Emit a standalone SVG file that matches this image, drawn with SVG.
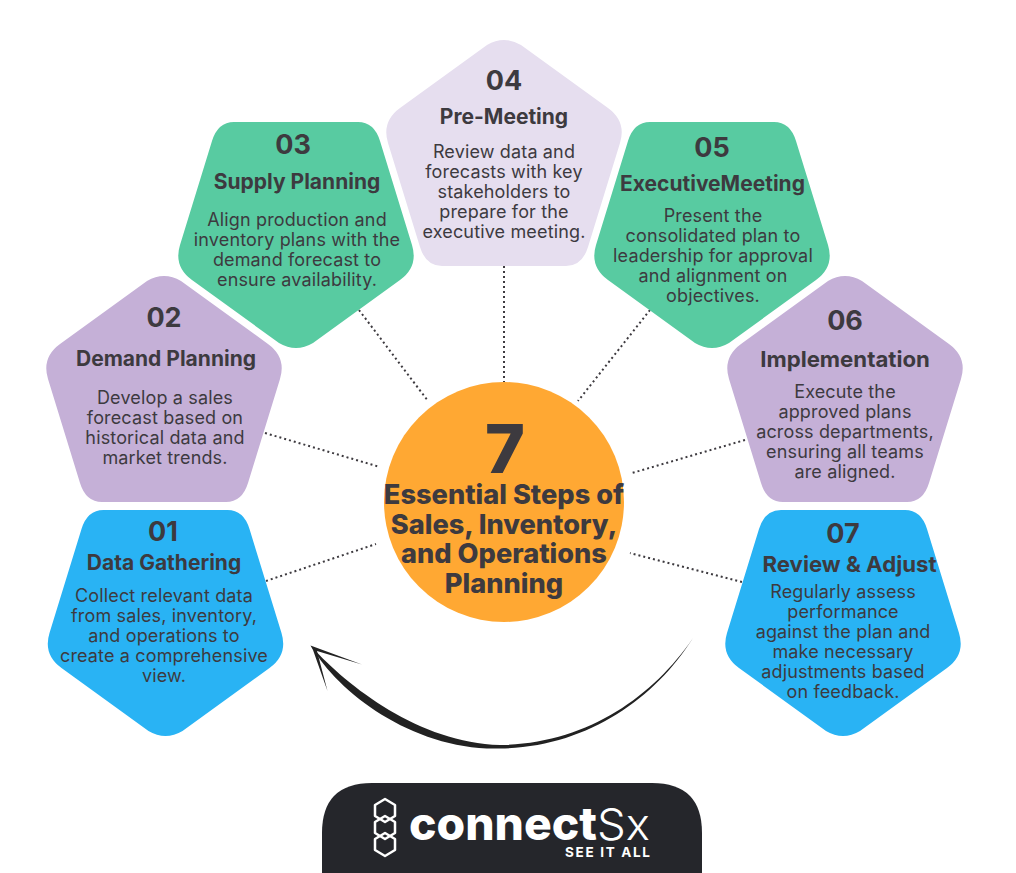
<svg xmlns="http://www.w3.org/2000/svg" xmlns:xlink="http://www.w3.org/1999/xlink" width="1016" height="873" viewBox="0 0 1016 873">
<style>
text{font-family:"Inter","Liberation Sans",sans-serif;text-anchor:middle;fill:#3d3a3f}
.num{font-size:27px;font-weight:700}
.ttl{font-size:21px;font-weight:700}
.ttl2{font-size:22.200px;font-weight:700}
.body{font-size:18px;font-weight:400;letter-spacing:.15px}
.blue{fill:#29b3f4}.green{fill:#58cba1}.purple{fill:#c5b0d7}.lilac{fill:#e6deef}
.dot{stroke:#3d3a3f;stroke-width:2;stroke-dasharray:2 3;fill:none}
.head{font-size:27.200px;font-weight:800}
</style>
<defs>
<path id="penta" d="M-17,5Q0,-5 17,5L104,68Q122.600,81.500 116,103L84,207Q78.200,226 62,226L-62,226Q-78.200,226 -84,207L-116,103Q-122.600,81.500 -104,68Z"/>
</defs>
<rect width="1016" height="873" fill="#fff"/>
<g id="connectors">
<line class="dot" x1="504" y1="266" x2="504" y2="384"/>
<line class="dot" x1="359" y1="310" x2="428" y2="401"/>
<line class="dot" x1="650" y1="310" x2="578" y2="401"/>
<line class="dot" x1="265" y1="433" x2="380" y2="467"/>
<line class="dot" x1="745" y1="440" x2="632" y2="473"/>
<line class="dot" x1="266" y1="581" x2="376" y2="544"/>
<line class="dot" x1="742" y1="582" x2="630" y2="553"/>
</g>
<g id="cycle-arrow" fill="#222222">
<path d="M693,638C652,698 585,744 500,745C420,743 347,686 312,647C338,693 415,751 500,748.500C585,747.500 654,700 693,638Z"/>
<path d="M310.500,645.500L362,664.500L317,651L327.500,691L313,650Z"/>
</g>
<g id="step-01">
<use xlink:href="#penta" class="blue" transform="translate(165.500,736) rotate(180)"/>
<text class="num" x="163" y="541">01</text>
<text class="ttl" x="164" y="570">Data Gathering</text>
<text class="body" x="164" y="602">Collect relevant data</text>
<text class="body" x="164" y="622">from sales, inventory,</text>
<text class="body" x="164" y="642">and operations to</text>
<text class="body" x="164" y="662">create a comprehensive</text>
<text class="body" x="164" y="682">view.</text>
</g>
<g id="step-02">
<use xlink:href="#penta" class="purple" transform="translate(164,276)"/>
<text class="num" x="164" y="327">02</text>
<text class="ttl" x="166" y="366">Demand Planning</text>
<text class="body" x="165" y="404">Develop a sales</text>
<text class="body" x="165" y="424">forecast based on</text>
<text class="body" x="165" y="444">historical data and</text>
<text class="body" x="165" y="464">market trends.</text>
</g>
<g id="step-03">
<use xlink:href="#penta" class="green" transform="translate(296,348) rotate(180)"/>
<text class="num" x="293" y="154">03</text>
<text class="ttl" x="297" y="189">Supply Planning</text>
<text class="body" x="297" y="226">Align production and</text>
<text class="body" x="297" y="246">inventory plans with the</text>
<text class="body" x="297" y="266">demand forecast to</text>
<text class="body" x="297" y="286">ensure availability.</text>
</g>
<g id="step-04">
<use xlink:href="#penta" class="lilac" transform="translate(504,40)"/>
<text class="num" x="504" y="90">04</text>
<text class="ttl" x="504" y="124">Pre-Meeting</text>
<text class="body" x="504" y="158">Review data and</text>
<text class="body" x="504" y="178">forecasts with key</text>
<text class="body" x="504" y="198">stakeholders to</text>
<text class="body" x="504" y="218">prepare for the</text>
<text class="body" x="504" y="238">executive meeting.</text>
</g>
<g id="step-05">
<use xlink:href="#penta" class="green" transform="translate(712,348) rotate(180)"/>
<text class="num" x="712" y="157">05</text>
<text class="ttl" x="712.500" y="191">ExecutiveMeeting</text>
<text class="body" x="713" y="222">Present the</text>
<text class="body" x="713" y="242">consolidated plan to</text>
<text class="body" x="713" y="262">leadership for approval</text>
<text class="body" x="713" y="282">and alignment on</text>
<text class="body" x="713" y="302">objectives.</text>
</g>
<g id="step-06">
<use xlink:href="#penta" class="purple" transform="translate(845,276)"/>
<text class="num" x="845" y="330">06</text>
<text class="ttl2" x="845" y="367">Implementation</text>
<text class="body" x="845" y="398">Execute the</text>
<text class="body" x="845" y="418">approved plans</text>
<text class="body" x="845" y="438">across departments,</text>
<text class="body" x="845" y="458">ensuring all teams</text>
<text class="body" x="845" y="478">are aligned.</text>
</g>
<g id="step-07">
<use xlink:href="#penta" class="blue" transform="translate(843,736) rotate(180)"/>
<text class="num" x="843" y="543">07</text>
<text class="ttl2" x="849.500" y="572">Review &amp; Adjust</text>
<text class="body" x="843" y="598">Regularly assess</text>
<text class="body" x="843" y="618">performance</text>
<text class="body" x="843" y="638">against the plan and</text>
<text class="body" x="843" y="658">make necessary</text>
<text class="body" x="843" y="678">adjustments based</text>
<text class="body" x="843" y="698">on feedback.</text>
</g>
<g id="center">
<circle cx="504" cy="502" r="120" fill="#ffa833"/>
<text x="505" y="473" style="font-size:68px;font-weight:800">7</text>
<text class="head" x="504" y="504">Essential Steps of</text>
<text class="head" x="504" y="534">Sales, Inventory,</text>
<text class="head" x="504" y="563">and Operations</text>
<text class="head" x="504" y="593">Planning</text>
</g>
<g id="logo">
<path d="M322,873V833Q322,783 372,783H652Q702,783 702,833V873Z" fill="#25262b"/>
<g fill="none" stroke="#fff" stroke-width="2.500" stroke-linejoin="round">
<path d="M385,799L395,805V816L385,822L375,816V805Z"/>
<path d="M385,816L395,822V833L385,839L375,833V822Z"/>
<path d="M385,833L395,839V850L385,856L375,850V839Z"/>
</g>
<text x="409" y="840" textLength="188" lengthAdjust="spacingAndGlyphs" style="font-size:46px;font-weight:800;fill:#fff;text-anchor:start">connect</text>
<text x="597" y="840" textLength="53" lengthAdjust="spacingAndGlyphs" style="font-size:44px;font-weight:300;fill:#fff;text-anchor:start">Sx</text>
<text x="565" y="857" textLength="85" lengthAdjust="spacing" style="font-size:13.500px;font-weight:700;fill:#fff;text-anchor:start">SEE IT ALL</text>
</g>
</svg>
